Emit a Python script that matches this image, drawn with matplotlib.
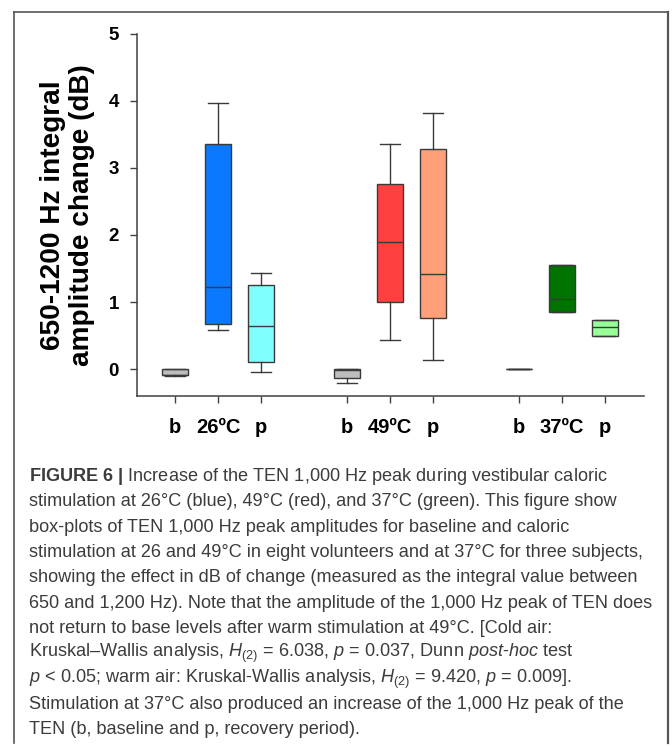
import numpy as np
import matplotlib
matplotlib.use('Agg')
from matplotlib import pyplot as plt
from matplotlib.lines import Line2D

# box statistics (dB)
positions = [1, 2, 3, 5, 6, 7, 9, 10, 11]
tick_labels = ['b', '26ºC', 'p', 'b', '49ºC', 'p', 'b', '37ºC', 'p']
whislo = [-0.10, 0.58, -0.045, -0.21, 0.43, 0.14, 0.0, 0.85, 0.49]
q1 = [-0.09, 0.67, 0.11, -0.13, 1.00, 0.77, 0.0, 0.85, 0.49]
med = [-0.085, 1.23, 0.64, -0.015, 1.89, 1.42, 0.0, 1.04, 0.63]
q3 = [0.0, 3.35, 1.25, 0.0, 2.76, 3.28, 0.0, 1.56, 0.73]
whishi = [0.0, 3.96, 1.43, 0.0, 3.36, 3.82, 0.0, 1.56, 0.73]
box_colors = ['#bdbdbd', '#0a78ff', '#80ffff', '#bdbdbd', '#ff4040',
              '#ffa07a', '#bdbdbd', '#007300', '#99ff99']

caption = [
    r'$\mathbf{FIGURE\ 6\ |}$ Increase of the TEN 1,000 Hz peak during vestibular caloric',
    'stimulation at 26°C (blue), 49°C (red), and 37°C (green). This figure show',
    'box-plots of TEN 1,000 Hz peak amplitudes for baseline and caloric',
    'stimulation at 26 and 49°C in eight volunteers and at 37°C for three subjects,',
    'showing the effect in dB of change (measured as the integral value between',
    '650 and 1,200 Hz). Note that the amplitude of the 1,000 Hz peak of TEN does',
    'not return to base levels after warm stimulation at 49°C. [Cold air:',
    r'Kruskal–Wallis analysis, $H_{(2)}$ = 6.038, $p$ = 0.037, Dunn $post$-$hoc$ test',
    r'$p$ < 0.05; warm air: Kruskal-Wallis analysis, $H_{(2)}$ = 9.420, $p$ = 0.009].',
    'Stimulation at 37°C also produced an increase of the 1,000 Hz peak of the',
    'TEN (b, baseline and p, recovery period).',
]

plt.rcParams['font.family'] = ['Liberation Sans', 'DejaVu Sans']
plt.rcParams['mathtext.fontset'] = 'custom'
plt.rcParams['mathtext.rm'] = 'Liberation Sans'
plt.rcParams['mathtext.it'] = 'Liberation Sans:italic'
plt.rcParams['mathtext.bf'] = 'Liberation Sans:bold'

fig = plt.figure(figsize=(6.72, 7.46), dpi=100)
ax = fig.add_axes([0.204, 0.469, 0.754, 0.486])

stats = []
for i in range(len(positions)):
    stats.append(dict(whislo=whislo[i], q1=q1[i], med=med[i], q3=q3[i],
                      whishi=whishi[i], fliers=[]))

edge = '#3a3a3a'
bp = ax.bxp(stats, positions=positions, widths=0.6, capwidths=0.48,
            patch_artist=True, showfliers=False,
            boxprops=dict(edgecolor=edge, linewidth=1.0),
            medianprops=dict(color=edge, linewidth=1.0),
            whiskerprops=dict(color=edge, linewidth=1.0),
            capprops=dict(color=edge, linewidth=1.0))
for patch, c in zip(bp['boxes'], box_colors):
    patch.set_facecolor(c)

ax.set_xlim(0.12, 11.9)
ax.set_ylim(-0.4, 5)
ax.set_yticks([0, 1, 2, 3, 4, 5])
ax.set_xticks(positions)
ax.set_xticklabels(tick_labels)
for s in ['top', 'right']:
    ax.spines[s].set_visible(False)
for s in ['left', 'bottom']:
    ax.spines[s].set_color('#404040')
    ax.spines[s].set_linewidth(1.1)
ax.tick_params(axis='y', length=5, width=1, color='#404040', pad=8,
               labelsize=13.5)
ax.tick_params(axis='x', length=5, width=1, color='#404040', pad=11,
               labelsize=14.5)
for lbl in ax.get_xticklabels() + ax.get_yticklabels():
    lbl.set_fontweight('bold')
ax.set_ylabel('650-1200 Hz integral\namplitude change (dB)',
              fontsize=20.2, fontweight='bold', linespacing=1.15, labelpad=10)

# frame around figure + caption
fc = '#555555'
fig.add_artist(Line2D([14 / 672, 14 / 672], [1 - 743 / 746, 1 - 12 / 746],
                      transform=fig.transFigure, color=fc, lw=1.2))
fig.add_artist(Line2D([14 / 672, 668 / 672], [1 - 12 / 746, 1 - 12 / 746],
                      transform=fig.transFigure, color=fc, lw=1.2))
fig.add_artist(Line2D([668 / 672, 668 / 672], [1 - 743 / 746, 1 - 12 / 746],
                      transform=fig.transFigure, color=fc, lw=1.6))

# caption font size chosen so the widest line spans ~627 px as in the figure
renderer = fig.canvas.get_renderer()
probe = fig.text(0, 0, caption[5], fontsize=12)
w12 = probe.get_window_extent(renderer).width
probe.remove()
cap_size = 12 * 627 / w12

for k, line in enumerate(caption):
    y = 476.7 + 25.3 * k
    fig.text(29 / 672, 1 - y / 746, line, ha='left', va='center',
             fontsize=cap_size, color='#3c3c3c')

fig.savefig('out.png', dpi=100)
